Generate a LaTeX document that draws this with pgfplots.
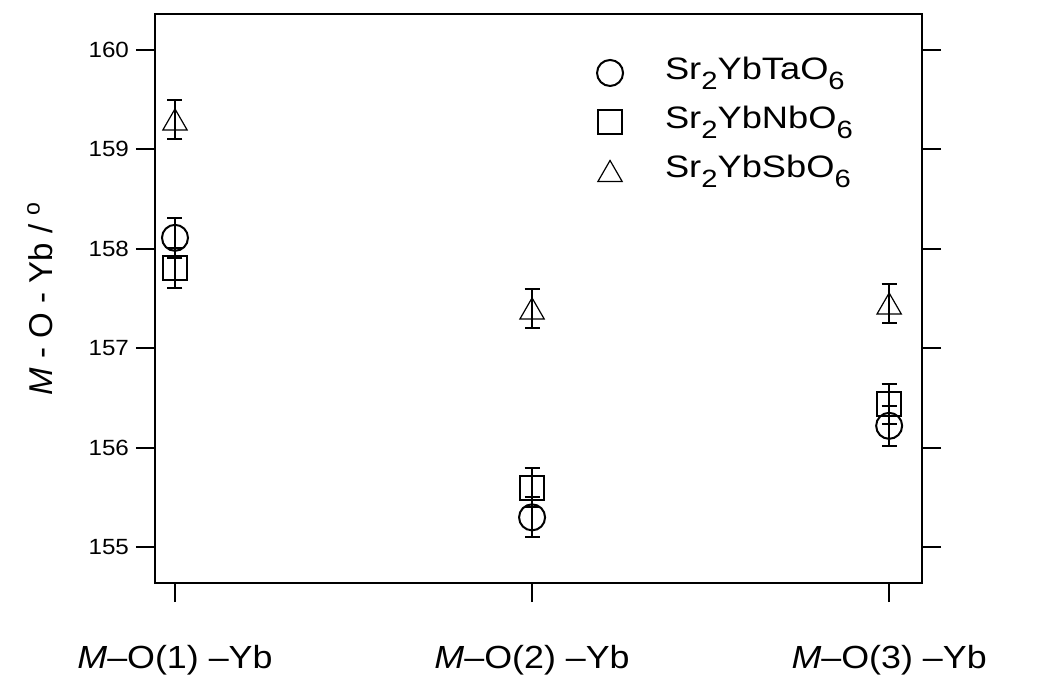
\documentclass[border=0pt]{standalone}
\usepackage{graphicx}
\usepackage{fontspec}
\setmainfont{Liberation Sans}
\usepackage{pgfplots}
\pgfplotsset{compat=1.18}
\newcommand\sub[1]{\raisebox{-5pt}{\fontsize{12.5}{13}\selectfont #1}}
\newcommand\xl[1]{\scalebox{1.12}[1]{#1}}
\newcommand\legtxt[1]{\scalebox{1.17}[1]{#1}}
\begin{document}
\begin{tikzpicture}
\useasboundingbox (-77.5pt,-46.5pt) rectangle (442.5pt,291.5pt);
\begin{axis}[
  scale only axis,
  width=383.5pt, height=284.5pt,
  xmin=0.944, xmax=3.092,
  ymin=154.64, ymax=160.36,
  axis line style={line width=1pt},
  every tick/.style={line width=1pt, black},
  major tick length=9.5pt,
  tick align=outside,
  xtick={1,2,3},
  xticklabels={{\xl{\textit{M}–O(1) –Yb}},{\xl{\textit{M}–O(2) –Yb}},{\xl{\textit{M}–O(3) –Yb}}},
  xtick pos=bottom,
  ytick={155,156,157,158,159,160},
  ytick pos=both,
  yticklabel pos=left,
  yticklabel={\scalebox{1.1}[1]{\pgfmathprintnumber{\tick}}},
  /pgf/number format/assume math mode=true,
  /pgf/number format/1000 sep={},
  yticklabel style={font=\fontsize{11}{13}\selectfont},
  xticklabel style={font=\fontsize{16}{19}\selectfont, anchor=base, yshift=-33pt},
  ylabel={\textit{M} - O - Yb / \textsuperscript{o}},
  ylabel style={font=\fontsize{16.5}{20}\selectfont, at={(axis description cs:-0.15,0.5)}, anchor=center},
  legend style={draw=none, fill=none, at={(rel axis cs:0.568,0.941)}, anchor=north west,
    font=\fontsize{15.5}{18}\selectfont, row sep=3.5pt,
    nodes={text height=12pt, text depth=5pt, inner sep=2pt}},
  legend cell align=left,
  /tikz/every odd column/.append style={column sep=19pt},
  error bars/y dir=both, error bars/y explicit,
  error bars/error bar style={line width=1pt, black},
  error bars/error mark options={rotate=90, mark size=3.75pt, line width=1pt, black},
]
\addplot[only marks, mark=o, mark size=6.5pt, mark options={line width=1pt, black}]
  coordinates {(1,158.11) +- (0,0.2) (2,155.30) +- (0,0.2) (3,156.22) +- (0,0.2)};
\addlegendentry{\legtxt{Sr\sub{2}YbTaO\sub{6}}}
\addplot[only marks, mark=square, mark size=6pt, mark options={line width=1pt, black}]
  coordinates {(1,157.81) +- (0,0.2) (2,155.60) +- (0,0.2) (3,156.44) +- (0,0.2)};
\addlegendentry{\legtxt{Sr\sub{2}YbNbO\sub{6}}}
\addplot[only marks, mark=triangle, mark size=7pt, mark options={line width=0.6pt, black, yshift=-1.75pt}]
  coordinates {(1,159.30) +- (0,0.2) (2,157.40) +- (0,0.2) (3,157.45) +- (0,0.2)};
\addlegendentry{\legtxt{Sr\sub{2}YbSbO\sub{6}}}
\end{axis}
\end{tikzpicture}
\end{document}
